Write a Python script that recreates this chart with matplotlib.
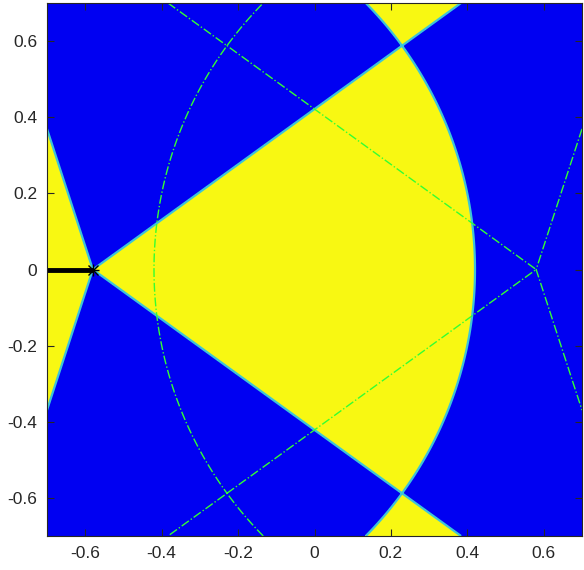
import numpy as np
import matplotlib
matplotlib.use("Agg")
import matplotlib.pyplot as plt

# --------------------------------------------------------------
# Chart parameters
# --------------------------------------------------------------
center_x = -0.58       # star point / centre of the sectors
radius = 1.0           # arc radius around the centre
n_half = 2.5           # 5 sectors -> angle factor 5/2
mirror_x = 0.58        # centre of the green mirrored contour
cut_x = [-0.7, -0.58]  # black branch-cut line
cut_y = [0.0, 0.0]

xlim = (-0.7, 0.7)
ylim = (-0.7, 0.7)
ticks = [-0.6, -0.4, -0.2, 0, 0.2, 0.4, 0.6]
tick_labels = ["-0.6", "-0.4", "-0.2", "0", "0.2", "0.4", "0.6"]

blue = "#0000f2"
yellow = "#f8f812"
edge = "#3cc4d8"
green = "#33ff33"

plt.rcParams["font.family"] = ["Liberation Sans", "DejaVu Sans"]

# grid (even count so y=0 is not sampled exactly)
x = np.linspace(xlim[0], xlim[1], 1200)
y = np.linspace(ylim[0], ylim[1], 1200)
X, Y = np.meshgrid(x, y)


def field(cx, sign):
    w = sign * (X - cx) + 1j * Y
    r = np.abs(w)
    th = np.angle(w)
    return (radius - r) * np.cos(n_half * th)


F = field(center_x, 1)
G = field(mirror_x, -1)

fig = plt.figure(figsize=(5.84, 5.70), dpi=100)
ax = fig.add_axes([47 / 584, 34 / 570, 535 / 584, 533 / 570])

ax.contourf(X, Y, F, levels=[-10, 0, 10], colors=[blue, yellow])
ax.contour(X, Y, F, levels=[0], colors=[edge], linewidths=1.6)
ax.contour(X, Y, G, levels=[0], colors=[green], linewidths=1.0,
           linestyles="-.")

# branch cut and its end point (MATLAB-style asterisk)
ax.plot(cut_x, cut_y, color="black", linewidth=3.5, solid_capstyle="butt")
ax.plot(cut_x[-1:], cut_y[-1:], marker="+", color="black",
        markersize=9, markeredgewidth=1, linestyle="none")
ax.plot(cut_x[-1:], cut_y[-1:], marker="x", color="black",
        markersize=7, markeredgewidth=1, linestyle="none")

ax.set_xlim(xlim)
ax.set_ylim(ylim)
ax.set_xticks(ticks)
ax.set_xticklabels(tick_labels)
ax.set_yticks(ticks)
ax.set_yticklabels(tick_labels)
ax.tick_params(direction="in", top=True, right=True, length=5,
               labelsize=12.5, colors="#262626", pad=7)
for s in ax.spines.values():
    s.set_color("#262626")
    s.set_linewidth(0.8)

fig.savefig("out.png", dpi=100)
